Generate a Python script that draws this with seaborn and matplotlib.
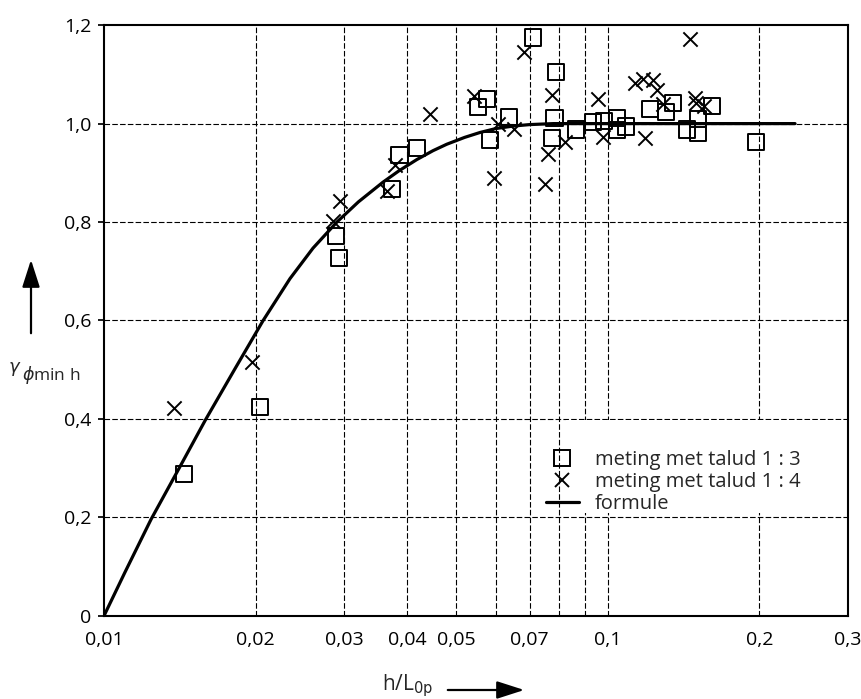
import numpy as np
import pandas as pd
import matplotlib
matplotlib.use("Agg")
import matplotlib.pyplot as plt
from matplotlib.lines import Line2D
from matplotlib.patches import Rectangle
import seaborn as sns

# measurements, slope 1:3 (squares)
talud3_x = [0.0144, 0.0204, 0.0293, 0.0289, 0.0373, 0.0386, 0.0419, 0.0552, 0.0577,
            0.0585, 0.0636, 0.0710, 0.0790, 0.0784, 0.0776, 0.0864, 0.0935, 0.0982,
            0.1045, 0.1045, 0.1086, 0.1212, 0.1305, 0.1350, 0.1435, 0.1513, 0.1513,
            0.1610, 0.1970]
talud3_y = [0.288, 0.424, 0.727, 0.772, 0.868, 0.936, 0.950, 1.033, 1.050,
            0.966, 1.014, 1.175, 1.105, 1.012, 0.970, 0.988, 1.004, 1.005,
            1.012, 0.987, 0.994, 1.029, 1.024, 1.041, 0.988, 1.010, 0.982,
            1.036, 0.963]

# measurements, slope 1:4 (crosses)
talud4_x = [0.0138, 0.0197, 0.0285, 0.0294, 0.0364, 0.0378, 0.0444, 0.0543, 0.0596,
            0.0607, 0.0653, 0.0683, 0.0776, 0.0761, 0.0751, 0.0821, 0.0957, 0.0979,
            0.1132, 0.1176, 0.1231, 0.1254, 0.1285, 0.1185, 0.1457, 0.1491, 0.1495,
            0.1550]
talud4_y = [0.422, 0.516, 0.802, 0.843, 0.863, 0.916, 1.019, 1.056, 0.889,
            0.999, 0.990, 1.146, 1.058, 0.939, 0.877, 0.963, 1.049, 0.973,
            1.083, 1.090, 1.088, 1.068, 1.040, 0.970, 1.171, 1.053, 1.041,
            1.036]

# formula curve
formule_x = [0.0100, 0.0110, 0.0124, 0.0141, 0.0159, 0.0182, 0.0207, 0.0234, 0.0260,
             0.0290, 0.0320, 0.0358, 0.0385, 0.0418, 0.0450, 0.0479, 0.0520, 0.0558,
             0.0600, 0.0649, 0.0700, 0.0780, 0.1000, 0.1500, 0.2355]
formule_y = [0.000, 0.088, 0.196, 0.300, 0.398, 0.502, 0.600, 0.685, 0.747,
             0.800, 0.841, 0.881, 0.904, 0.927, 0.945, 0.958, 0.972, 0.982,
             0.990, 0.995, 0.998, 1.000, 1.000, 1.000, 1.000]

grid_x = [0.02, 0.03, 0.04, 0.05, 0.06, 0.07, 0.08, 0.09, 0.1, 0.2]
xtick_vals = [0.01, 0.02, 0.03, 0.04, 0.05, 0.06, 0.07, 0.08, 0.09, 0.1, 0.2, 0.3]
xtick_labels = ["0,01", "0,02", "0,03", "0,04", "0,05", "", "0,07", "", "", "0,1", "0,2", "0,3"]
ytick_vals = [0, 0.2, 0.4, 0.6, 0.8, 1.0, 1.2]
ytick_labels = ["0", "0,2", "0,4", "0,6", "0,8", "1,0", "1,2"]

sns.set_theme(style="white")
plt.rcParams["font.family"] = ["Open Sans", "DejaVu Sans"]
plt.rcParams["mathtext.fontset"] = "dejavusans"

df3 = pd.DataFrame({"x": talud3_x, "y": talud3_y})
df4 = pd.DataFrame({"x": talud4_x, "y": talud4_y})
dff = pd.DataFrame({"x": formule_x, "y": formule_y})

fig = plt.figure(figsize=(8.61, 6.99), dpi=100)
ax = fig.add_axes([104 / 861, 0.119, 744 / 861, 0.845])
ax.set_xscale("log")

for gx in grid_x:
    ax.axvline(gx, color="black", lw=0.8, ls=(0, (5, 2)), zorder=1)
for gy in ytick_vals[1:-1]:
    ax.axhline(gy, color="black", lw=0.8, ls=(0, (5, 2)), zorder=1)
# white patch behind the legend text (grid is interrupted there)
ax.add_patch(Rectangle((0.0825, 0.208), 0.3 - 0.0825, 0.189, facecolor="white",
                       edgecolor="none", zorder=1.5))

sns.lineplot(data=dff, x="x", y="y", color="black", lw=2.3, ax=ax, zorder=3, sort=True)
sns.scatterplot(data=df3, x="x", y="y", marker="s", s=135, facecolor="none",
                edgecolor="black", linewidth=1.4, ax=ax, zorder=4)
sns.scatterplot(data=df4, x="x", y="y", marker="x", s=105, color="black",
                linewidth=1.4, ax=ax, zorder=4)

ax.set_xlim(0.01, 0.3)
ax.set_ylim(0, 1.2)
ax.set_xticks(xtick_vals)
ax.set_xticklabels(xtick_labels)
ax.xaxis.set_minor_locator(matplotlib.ticker.NullLocator())
ax.set_yticks(ytick_vals)
ax.set_yticklabels(ytick_labels)
ax.tick_params(axis="x", length=0, pad=11, labelsize=14, colors="black")
ax.tick_params(axis="y", length=4, direction="out", pad=5, labelsize=14, colors="black", left=True)
ax.set_xlabel("")
ax.set_ylabel("")
for sp in ax.spines.values():
    sp.set_color("black")
    sp.set_linewidth(1.5)

handles = [
    Line2D([], [], marker="s", ls="none", markersize=11.5, markerfacecolor="none",
           markeredgecolor="black", markeredgewidth=1.4),
    Line2D([], [], marker="x", ls="none", markersize=10.5, color="black", markeredgewidth=1.4),
    Line2D([], [], color="black", lw=2.3),
]
labels = ["meting met talud 1 : 3", "meting met talud 1 : 4", "formule"]
ax.legend(handles, labels, loc="upper left", bbox_to_anchor=(0.581, 0.298), frameon=False,
          fontsize=14.5, handlelength=1.6, handletextpad=0.8, labelspacing=0.1, borderpad=0)

# axis labels with arrows
fig.text(8 / 861, 1 - 369 / 699, r"$\gamma$", fontsize=13, ha="left", va="center")
fig.text(22 / 861, 1 - 375 / 699, r"$\phi$min h", fontsize=12.5, ha="left", va="center")
ax.annotate("", xy=(31 / 861, 1 - 257 / 699), xytext=(31 / 861, 1 - 336 / 699),
            xycoords="figure fraction", textcoords="figure fraction",
            arrowprops=dict(arrowstyle="-|>,head_length=1.4,head_width=0.45", color="black", lw=1.6))
fig.text(382 / 861, 1 - 686 / 699, r"h/L$_{\mathrm{0p}}$", fontsize=15, ha="left", va="center")
ax.annotate("", xy=(527 / 861, 1 - 690 / 699), xytext=(445 / 861, 1 - 690 / 699),
            xycoords="figure fraction", textcoords="figure fraction",
            arrowprops=dict(arrowstyle="-|>,head_length=1.4,head_width=0.45", color="black", lw=1.6))

fig.savefig("out.png", dpi=100)
